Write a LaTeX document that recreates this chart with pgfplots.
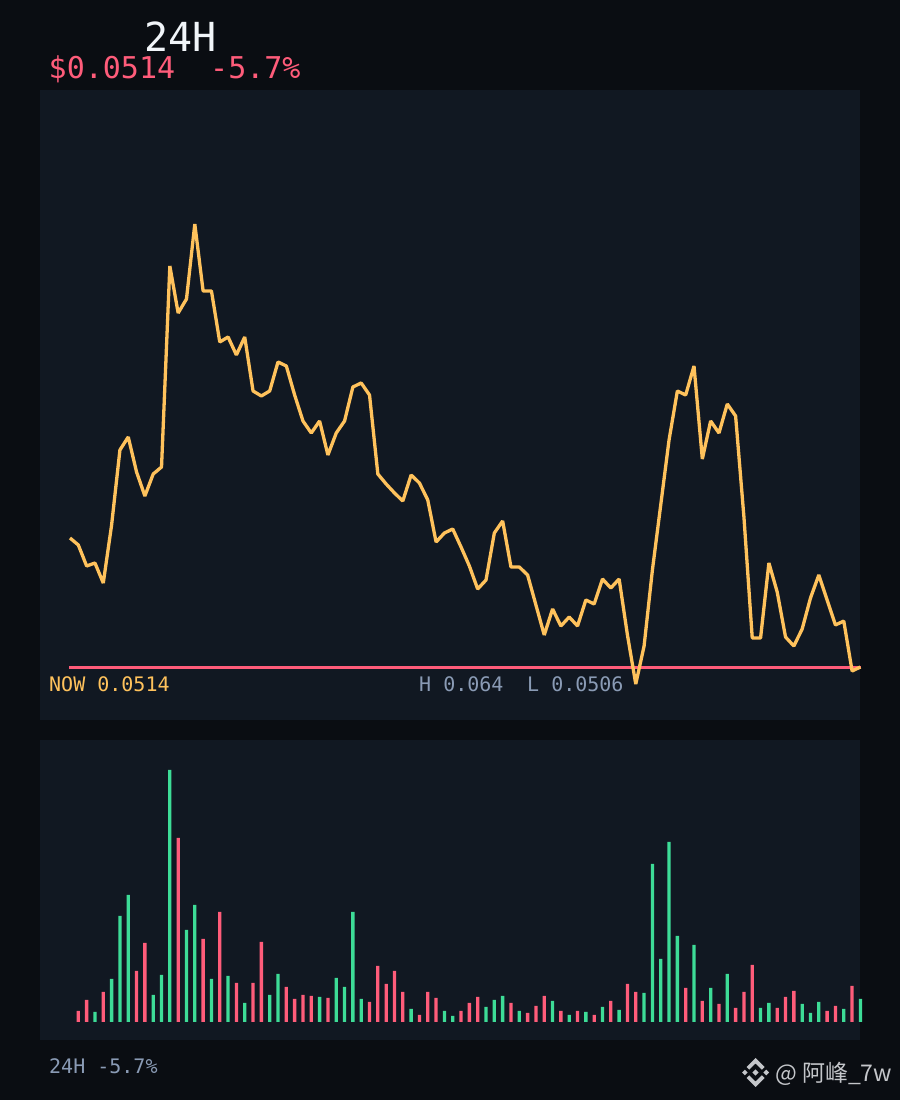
\documentclass[border=0pt]{standalone}
\usepackage{fontspec}
\usepackage{pgfplots}
\usepackage{pgfplotstable}
\pgfplotsset{compat=1.18}
\newfontfamily\mono{DejaVu Sans Mono}
\newfontfamily\cjk{Noto Sans CJK SC}
\definecolor{pagebg}{HTML}{0A0D12}
\definecolor{panelbg}{HTML}{111822}
\definecolor{tred}{HTML}{FF5C7A}
\definecolor{torange}{HTML}{FFC25C}
\definecolor{tgreen}{HTML}{3DDC97}
\definecolor{tgrey}{HTML}{8A9BB5}
\definecolor{twhite}{HTML}{F1F5F9}
\definecolor{wm}{HTML}{C4C6CA}
\newcommand{\fs}[1]{\fontsize{#1}{#1}\selectfont}
\pgfplotstableread{
i p
0 0.055069
1 0.054870
2 0.054273
3 0.054358
4 0.053789
5 0.055439
6 0.057572
7 0.057942
8 0.056946
9 0.056264
10 0.056889
11 0.057088
12 0.062805
13 0.061468
14 0.061867
15 0.064000
16 0.062094
17 0.062094
18 0.060644
19 0.060786
20 0.060274
21 0.060786
22 0.059250
23 0.059108
24 0.059250
25 0.060075
26 0.059961
27 0.059136
28 0.058397
29 0.058055
30 0.058397
31 0.057430
32 0.058055
33 0.058397
34 0.059364
35 0.059478
36 0.059136
37 0.056889
38 0.056605
39 0.056349
40 0.056121
41 0.056861
42 0.056633
43 0.056150
44 0.054955
45 0.055211
46 0.055325
47 0.054813
48 0.054273
49 0.053618
50 0.053874
51 0.055211
52 0.055553
53 0.054244
54 0.054244
55 0.054017
56 0.053163
57 0.052310
58 0.053050
59 0.052566
60 0.052822
61 0.052566
62 0.053306
63 0.053192
64 0.053903
65 0.053647
66 0.053903
67 0.052310
68 0.050916
69 0.051997
70 0.054159
71 0.056008
72 0.057856
73 0.059250
74 0.059136
75 0.059961
76 0.057316
77 0.058397
78 0.058055
79 0.058880
80 0.058539
81 0.055666
82 0.052225
83 0.052225
84 0.054358
85 0.053533
86 0.052253
87 0.051997
88 0.052481
89 0.053362
90 0.054017
91 0.053306
92 0.052595
93 0.052708
94 0.051286
95 0.051400
}\pricetable
\pgfplotstableread{
i v
3 10
5 43
6 106
7 127
10 27
11 47
12 252
14 92
15 117
17 43
19 46
21 19
24 27
25 48
30 25
32 44
33 35
34 110
35 23
41 13
45 11
46 6
50 15
51 22
52 26
54 11
58 21
60 7
62 10
64 15
66 12
69 29
70 158
71 63
72 180
73 86
75 77
77 34
79 48
83 14
84 19
88 18
89 9
90 20
93 13
95 23
}\voluptable
\pgfplotstableread{
i v
1 11
2 22
4 30
8 51
9 79
13 184
16 83
18 110
20 39
22 39
23 80
26 35
27 23
28 27
29 26
31 24
36 20
37 56
38 38
39 51
40 30
42 7
43 30
44 24
47 11
48 19
49 25
53 19
55 9
56 16
57 26
59 11
61 11
63 7
65 21
67 38
68 30
74 34
76 21
78 18
80 14
81 30
82 57
85 14
86 25
87 31
91 11
92 16
94 36
}\voldowntable
\begin{document}
\begin{tikzpicture}[x=1pt,y=1pt]
\fill[pagebg] (0,0) rectangle (900,1100);
\begin{axis}[
  at={(40pt,380pt)},anchor=south west,
  scale only axis,width=820pt,height=630pt,
  xmin=-3.606,xmax=94.952,ymin=0.049893,ymax=0.067811,
  ticks=none,axis line style={draw=none},
  axis background/.style={fill=panelbg},
  clip=false]
\addplot[tred,line width=3pt] coordinates {(-0.12,0.0514) (95.1,0.0514)};
\addplot[torange,line width=3.3pt,line join=bevel] table[x=i,y=p] {\pricetable};
\end{axis}
\begin{axis}[
  at={(40pt,60pt)},anchor=south west,
  scale only axis,width=820pt,height=300pt,
  xmin=-3.606,xmax=94.952,ymin=-18,ymax=282,
  ticks=none,axis line style={draw=none},
  axis background/.style={fill=panelbg},
  clip=false,ybar,bar width=3.3pt]
\addplot[fill=tgreen,draw=none,bar shift=0pt] table[x=i,y=v] {\voluptable};
\addplot[fill=tred,draw=none,bar shift=0pt] table[x=i,y=v] {\voldowntable};
\end{axis}
\tikzset{t/.style={inner sep=0pt,anchor=base west}}
\node[t,text=twhite] at (144,1048) {\mono\fs{40}24H};
\node[t,text=tred] at (48.5,1021) {\mono\fs{30}\$0.0514};
\node[t,text=tred] at (210,1021) {\mono\fs{30}-5.7\%};
\node[t,text=torange] at (49,408) {\mono\fs{20}NOW 0.0514};
\node[t,text=tgrey] at (419,408) {\mono\fs{20}H 0.064};
\node[t,text=tgrey] at (527,408) {\mono\fs{20}L 0.0506};
\node[t,text=tgrey] at (49,26) {\mono\fs{20}24H -5.7\%};
% watermark
\begin{scope}[shift={(755.5,27.5)},wm]
\fill (0,14.5) -- (9,5.5) -- (6.3,2.8) -- (0,9) -- (-6.3,2.8) -- (-9,5.5) -- cycle;
\fill (0,-14.5) -- (9,-5.5) -- (6.3,-2.8) -- (0,-9) -- (-6.3,-2.8) -- (-9,-5.5) -- cycle;
\fill (0,3.2) -- (3.2,0) -- (0,-3.2) -- (-3.2,0) -- cycle;
\fill (-13.5,0) -- (-10.7,2.8) -- (-7.9,0) -- (-10.7,-2.8) -- cycle;
\fill (13.5,0) -- (10.7,2.8) -- (7.9,0) -- (10.7,-2.8) -- cycle;
\end{scope}
\node[t,text=wm] at (775,19) {\cjk\fs{23}@ 阿峰\_7w};
\end{tikzpicture}
\end{document}
